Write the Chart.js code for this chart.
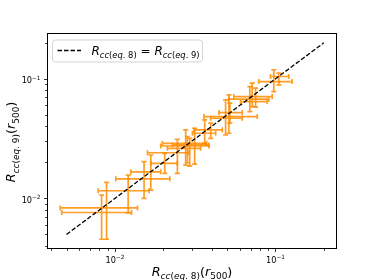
<!DOCTYPE html>
<html><head><meta charset="utf-8">
<script src="https://cdn.jsdelivr.net/npm/chart.js@4.4.0/dist/chart.umd.min.js"></script>
<style>html,body{margin:0;padding:0;background:#fff;overflow:hidden}</style>
</head><body>
<canvas id="c" width="374" height="280"></canvas>
<script>
// ---- data ----
const xCenter = [0.00827,0.00888,0.0121,0.0152,0.01674,0.02045,0.0245,0.0276,0.02924,0.0314,0.02828,0.03623,0.0395,0.0489,0.0513,0.052,0.0692,0.0716,0.0752,0.0976,0.105];
const yCenter = [0.00763,0.00834,0.0116,0.0146,0.0167,0.01965,0.0241,0.02744,0.0289,0.028,0.02624,0.03506,0.03737,0.0483,0.0468,0.0522,0.0676,0.0711,0.0645,0.0949,0.1045];
const xLow    = [0.00467,0.00457,0.00787,0.01014,0.01257,0.01674,0.01596,0.0193,0.01978,0.02283,0.02125,0.0304,0.0311,0.03587,0.0395,0.0445,0.0513,0.0551,0.0606,0.0787,0.0931];
const xHigh   = [0.0127,0.01384,0.01633,0.022,0.0193,0.0245,0.02893,0.0385,0.03727,0.0385,0.0342,0.0424,0.04667,0.077,0.0621,0.0621,0.0909,0.0954,0.0888,0.127,0.121];
const yLow    = [0.00456,0.00456,0.00757,0.01,0.01175,0.0162,0.0162,0.019,0.01866,0.01939,0.01988,0.0289,0.03184,0.0339,0.03506,0.04256,0.0532,0.0586,0.0579,0.0782,0.089];
const yHigh   = [0.01066,0.0136,0.01567,0.0203,0.02307,0.02383,0.0312,0.03737,0.03184,0.0386,0.03284,0.0453,0.04256,0.0667,0.0734,0.0626,0.0862,0.092,0.0836,0.119,0.1117];
const lineX = [0.005, 0.2];
const lineY = [0.005, 0.2];
const axisMin = 0.00378, axisMax = 0.2415;
const tickValues = [0.004,0.005,0.006,0.007,0.008,0.009,0.01,0.02,0.03,0.04,0.05,0.06,0.07,0.08,0.09,0.1,0.2];
const majorValues = [0.01, 0.1];
const majorExponents = ['\u22122', '\u22121'];

const FONT = '"DejaVu Sans"';
const ORANGE = 'rgba(255,140,0,0.85)';

// math-like label pieces: [text, italic, subscript]
const xTitle = [['R',1,0],['cc',1,1],['(',0,1],['eq',1,1],['. 8',0,1],[')',0,1],['(',0,0],['r',1,0],['500',0,1],[')',0,0]];
const yTitle = [['R',1,0],['cc',1,1],['(',0,1],['eq',1,1],['. 9',0,1],[')',0,1],['(',0,0],['r',1,0],['500',0,1],[')',0,0]];
const legendText = [['R',1,0],['cc',1,1],['(',0,1],['eq',1,1],['. 8',0,1],[')',0,1],[' = ',0,0],['R',1,0],['cc',1,1],['(',0,1],['eq',1,1],['. 9',0,1],[')',0,1]];

function drawMath(ctx, parts, F, x, y, align){
  let w = 0;
  const segs = parts.map(([t,it,sub])=>{
    const size = sub ? F*0.7 : F;
    const font = (it?'italic ':'') + size.toFixed(2) + 'px ' + FONT;
    ctx.font = font;
    const mw = ctx.measureText(t).width;
    w += mw;
    return {t, font, sub, mw};
  });
  let cx = align === 'center' ? x - w/2 : (align === 'right' ? x - w : x);
  ctx.textBaseline = 'alphabetic';
  ctx.textAlign = 'left';
  segs.forEach(s=>{
    ctx.font = s.font;
    ctx.fillText(s.t, cx, y + s.sub * F);
    cx += s.mw;
  });
  return w;
}

function powerLabel(exp){
  return [['10',0,0],[exp,0,-0.43]];
}

const errorBarPlugin = {
  id: 'errorBars',
  beforeDatasetsDraw(chart){
    const {ctx, scales:{x, y}} = chart;
    ctx.save();
    ctx.strokeStyle = ORANGE;
    ctx.lineWidth = 1.7;
    const cap = 2.5;
    for (let i = 0; i < xCenter.length; i++){
      const px = x.getPixelForValue(xCenter[i]);
      const py = y.getPixelForValue(yCenter[i]);
      const x0 = x.getPixelForValue(xLow[i]), x1 = x.getPixelForValue(xHigh[i]);
      const y0 = y.getPixelForValue(yLow[i]), y1 = y.getPixelForValue(yHigh[i]);
      ctx.beginPath();
      ctx.moveTo(x0, py); ctx.lineTo(x1, py);
      ctx.moveTo(px, y0); ctx.lineTo(px, y1);
      ctx.moveTo(x0, py-cap); ctx.lineTo(x0, py+cap);
      ctx.moveTo(x1, py-cap); ctx.lineTo(x1, py+cap);
      ctx.moveTo(px-cap, y0); ctx.lineTo(px+cap, y0);
      ctx.moveTo(px-cap, y1); ctx.lineTo(px+cap, y1);
      ctx.stroke();
    }
    ctx.restore();
  },
  afterDraw(chart){
    const {ctx, chartArea:a, scales:{x, y}} = chart;
    ctx.save();
    // frame
    ctx.strokeStyle = '#000';
    ctx.lineWidth = 1;
    ctx.strokeRect(Math.round(a.left)+0.5, Math.round(a.top)+0.5, Math.round(a.right-a.left)-1, Math.round(a.bottom-a.top)-1);
    // tick marks
    ctx.beginPath();
    x.ticks.forEach(t=>{
      const p = Math.round(x.getPixelForValue(t.value)) + 0.5;
      const len = majorValues.includes(t.value) ? 3 : 1.8;
      ctx.moveTo(p, a.bottom); ctx.lineTo(p, a.bottom + len);
    });
    y.ticks.forEach(t=>{
      const p = Math.round(y.getPixelForValue(t.value)) + 0.5;
      const len = majorValues.includes(t.value) ? 3 : 1.8;
      ctx.moveTo(a.left, p); ctx.lineTo(a.left - len, p);
    });
    ctx.lineWidth = 0.8;
    ctx.stroke();
    // tick labels (10^n, drawn at the scale positions)
    ctx.fillStyle = '#000';
    majorValues.forEach((v, i)=>{
      const px = x.getPixelForValue(v);
      drawMath(ctx, powerLabel(majorExponents[i]), 8.2, px, a.bottom + 13.7, 'center');
      const py = y.getPixelForValue(v);
      drawMath(ctx, powerLabel(majorExponents[i]), 8.2, a.left - 6.5, py + 4.3, 'right');
    });
    // legend
    const lx = 52.5, ly = 40, lw = 150, lh = 22, r = 3;
    ctx.beginPath();
    ctx.moveTo(lx+r, ly); ctx.lineTo(lx+lw-r, ly); ctx.arcTo(lx+lw, ly, lx+lw, ly+r, r);
    ctx.lineTo(lx+lw, ly+lh-r); ctx.arcTo(lx+lw, ly+lh, lx+lw-r, ly+lh, r);
    ctx.lineTo(lx+r, ly+lh); ctx.arcTo(lx, ly+lh, lx, ly+lh-r, r);
    ctx.lineTo(lx, ly+r); ctx.arcTo(lx, ly, lx+r, ly, r);
    ctx.closePath();
    ctx.fillStyle = 'rgba(255,255,255,0.8)';
    ctx.fill();
    ctx.strokeStyle = '#d4d4d4';
    ctx.lineWidth = 1;
    ctx.stroke();
    ctx.beginPath();
    ctx.setLineDash([4.5, 2]);
    ctx.strokeStyle = '#000';
    ctx.lineWidth = 1.3;
    ctx.moveTo(57.5, 50.5); ctx.lineTo(81, 50.5);
    ctx.stroke();
    ctx.setLineDash([]);
    ctx.fillStyle = '#000';
    drawMath(ctx, legendText.map(p=>[p[0],p[1],p[2]*0.25]), 12, 91.5, 54.5, 'left');
    // axis titles
    drawMath(ctx, xTitle.map(p=>[p[0],p[1],p[2]*0.25]), 12.8, (a.left + a.right)/2, 275.7, 'center');
    ctx.translate(15.3, (a.top + a.bottom)/2 + 1);
    ctx.rotate(-Math.PI/2);
    drawMath(ctx, yTitle.map(p=>[p[0],p[1],p[2]*0.25]), 12.8, 0, 0, 'center');
    ctx.restore();
  }
};

function logAxis(isX){
  return {
    type: 'logarithmic',
    position: isX ? 'bottom' : 'left',
    min: axisMin, max: axisMax,
    grid: {display: false},
    border: {display: false},
    afterBuildTicks(scale){ scale.ticks = tickValues.map(v => ({value: v, major: majorValues.includes(v)})); },
    afterFit(scale){ if (isX) scale.height = 31; else scale.width = 47; },
    ticks: {display: false, autoSkip: false}
  };
}

new Chart(document.getElementById('c'), {
  type: 'scatter',
  data: {
    datasets: [
      {
        label: 'points',
        data: xCenter.map((v, i) => ({x: v, y: yCenter[i]})),
        pointRadius: 0, pointHoverRadius: 0,
        backgroundColor: ORANGE, borderColor: ORANGE
      },
      {
        label: 'equality',
        data: lineX.map((v, i) => ({x: v, y: lineY[i]})),
        showLine: true,
        borderColor: '#000',
        borderWidth: 1.3,
        borderDash: [4.5, 2],
        pointRadius: 0,
        fill: false
      }
    ]
  },
  options: {
    responsive: false,
    animation: false,
    devicePixelRatio: 1,
    layout: {padding: {left: 0, top: 33, right: 37, bottom: 0}},
    plugins: {legend: {display: false}, tooltip: {enabled: false}},
    scales: {x: logAxis(true), y: logAxis(false)}
  },
  plugins: [errorBarPlugin]
});
</script>
</body></html>
